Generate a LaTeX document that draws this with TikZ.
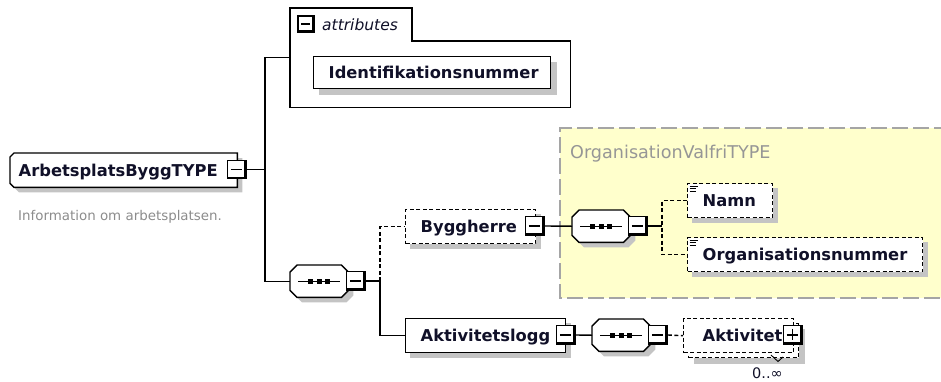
\documentclass[tikz,border=0pt]{standalone}
\usepackage{fontspec}
\setmainfont{DejaVu Sans}
\usetikzlibrary{calc}
\pgfdeclarelayer{back}
\pgfdeclarelayer{shade}
\pgfdeclarelayer{mid}
\pgfsetlayers{back,shade,mid,main}
\definecolor{shd}{RGB}{196,196,196}
\definecolor{yel}{RGB}{255,255,204}
\definecolor{ybord}{RGB}{165,165,165}
\definecolor{desc}{RGB}{140,140,140}
\definecolor{typec}{RGB}{150,150,150}
\definecolor{txt}{RGB}{16,16,40}

\newcommand\boxshadow[2]{\begin{pgfonlayer}{shade}\fill[shd] ($(#1.north west)+(#2,#2)$) rectangle ($(#1.south east)+(#2,#2)$);\end{pgfonlayer}}
\newcommand\octo[4]{\path[#4] ($(#1.north west)+(7+#2,#3)$) -- ($(#1.north east)+(-7+#2,#3)$) -- ($(#1.north east)+(#2,7+#3)$) -- ($(#1.south east)+(#2,-7+#3)$) -- ($(#1.south east)+(-7+#2,#3)$) -- ($(#1.south west)+(7+#2,#3)$) -- ($(#1.south west)+(#2,-7+#3)$) -- ($(#1.north west)+(#2,7+#3)$) -- cycle;}
\newcommand\seqdraw[1]{%
 \begin{pgfonlayer}{shade}\octo{#1}{5}{5}{fill=shd}\end{pgfonlayer}
 \begin{pgfonlayer}{mid}\octo{#1}{0}{0}{draw,fill=white,line width=1.4pt}\end{pgfonlayer}
 \draw[line width=1.4pt] ($(#1.west)+(8,0)$) -- ($(#1.east)+(-8,0)$);
 \foreach \d in {-8.5,0,8.5}{\fill ($(#1.center)+(\d-2.5,-2.3)$) rectangle ($(#1.center)+(\d+2.5,2.3)$);}
}
\newcommand\simpleicon[1]{%
 \draw[line width=0.9pt] ($(#1.north west)+(2.5,3)$) -- +(8,0);
 \draw[line width=0.9pt] ($(#1.north west)+(2.5,5.5)$) -- +(6,0);
 \draw[line width=0.9pt] ($(#1.north west)+(2.5,8)$) -- +(6,0);
}

\tikzset{
 lw/.style={line width=1.4pt},
 opt/.style={dash pattern=on 4pt off 2.5pt},
 elem/.style={draw, lw, fill=white, anchor=north west, minimum height=34pt, inner ysep=0pt, align=left,
   font=\bfseries\fontsize{16.3}{19}\selectfont, text=txt, text height=11.7pt, text depth=0pt},
 ctl/.style={draw, lw, fill=white, minimum size=18.5pt, inner sep=0pt,
   path picture={\draw[line width=3.6pt] (path picture bounding box.south west) -- (path picture bounding box.south east) -- (path picture bounding box.north east);
     \draw[line width=1.4pt] ($(path picture bounding box.west)+(3,0)$) -- ($(path picture bounding box.east)+(-4.5,0)$);}},
 plusctl/.style={draw, lw, fill=white, minimum size=18.5pt, inner sep=0pt,
   path picture={\draw[line width=3.6pt] (path picture bounding box.south west) -- (path picture bounding box.south east) -- (path picture bounding box.north east);
     \draw[line width=1.4pt] ($(path picture bounding box.west)+(3,0)$) -- ($(path picture bounding box.east)+(-4.5,0)$);
     \draw[line width=1.4pt] ($(path picture bounding box.north)+(-0.8,3)$) -- ($(path picture bounding box.south)+(-0.8,-4.5)$);}},
 seqn/.style={anchor=north west, minimum width=58pt, minimum height=32pt, inner sep=0pt},
}

\begin{document}
\begin{tikzpicture}[x=1pt,y=-1pt]
\useasboundingbox (0,0) rectangle (941,381);

% yellow type container
\begin{pgfonlayer}{back}
\fill[yel] (560,128) rectangle (950,298);
\draw[ybord, line width=1.8pt, dash pattern=on 16pt off 5pt] (950,128) -- (560,128) -- (560,298) -- (950,298);
\end{pgfonlayer}
\node[anchor=base west, text=typec, font=\fontsize{17.6}{20}\selectfont, inner sep=0pt] (typename) at (570,158) {OrganisationValfriTYPE};

% root complex type
\node[elem, draw=none, fill=none, minimum width=226pt, minimum height=33pt, inner xsep=8pt, text width=210pt] (tb) at (10,153) {ArbetsplatsByggTYPE};
\begin{pgfonlayer}{shade}
\fill[shd] ($(tb.north west)+(9,5)$) -- ($(tb.north east)+(5,5)$) -- ($(tb.south east)+(5,5)$) -- ($(tb.south west)+(9,5)$) -- ($(tb.south west)+(5,1)$) -- ($(tb.north west)+(5,9)$) -- cycle;
\end{pgfonlayer}
\begin{pgfonlayer}{mid}
\draw[lw, fill=white] ($(tb.north west)+(4,0)$) -- (tb.north east) -- (tb.south east) -- ($(tb.south west)+(4,0)$) -- ($(tb.south west)+(0,-4)$) -- ($(tb.north west)+(0,4)$) -- cycle;
\end{pgfonlayer}
\node[ctl] (tbm) at (237,169.5) {};
\node[anchor=base west, text=desc, font=\fontsize{13.4}{15}\selectfont, inner sep=0pt] (descr) at (18,220) {Information om arbetsplatsen.};

% attributes group
\node[anchor=north west, minimum width=280pt, minimum height=99pt, inner sep=0pt] (attr) at (290,8) {};
\draw[lw] (attr.south west) -- (attr.north west) -- ($(attr.north west)+(122,0)$) -- ($(attr.north west)+(122,33)$) -- ($(attr.north east)+(0,33)$) -- (attr.south east) -- cycle;
\node[ctl, minimum size=16pt] (attrm) at (306,24) {};
\node[anchor=base west, inner sep=0pt, text=txt, font=\itshape\fontsize{15.5}{18}\selectfont] (attrlabel) at (322,30) {attributes};
\node[elem, minimum width=237pt, minimum height=32pt, inner xsep=15pt, text width=207pt] (idn) at (313,56) {Identifikationsnummer};
\boxshadow{idn}{6}

% sequence 1
\node[seqn] (seq1) at (290,265) {};
\seqdraw{seq1}
\node[ctl] (s1m) at (356,281) {};

% Byggherre
\node[elem, opt, minimum width=130pt, inner xsep=15pt, text width=100pt] (byg) at (405,209) {Byggherre};
\boxshadow{byg}{5}
\node[ctl] (bygm) at (535,226) {};

% Aktivitetslogg
\node[elem, minimum width=160pt, inner xsep=15pt, text width=130pt] (akl) at (405,318) {Aktivitetslogg};
\boxshadow{akl}{5}
\node[ctl] (aklm) at (566,335) {};

% sequence 2
\node[seqn] (seq2) at (572,210) {};
\seqdraw{seq2}
\node[ctl] (s2m) at (638,226) {};

% Namn, Organisationsnummer
\node[elem, opt, minimum width=85pt, inner xsep=15pt, text width=55pt] (namn) at (687,183) {Namn};
\boxshadow{namn}{5}
\simpleicon{namn}
\node[elem, opt, minimum width=235pt, inner xsep=15pt, text width=205pt] (org) at (687,237) {Organisationsnummer};
\boxshadow{org}{5}
\simpleicon{org}

% sequence 3
\node[seqn] (seq3) at (592,319) {};
\seqdraw{seq3}
\node[ctl] (s3m) at (658,335) {};

% Aktivitet (0..inf)
\node[elem, opt, minimum width=110pt] (aktb) at (688,323) {};
\boxshadow{aktb}{6}
\node[elem, opt, minimum width=110pt, inner xsep=19pt, text width=72pt] (akt) at (683,318) {Aktivitet};
\node[plusctl] (aktp) at (793,335) {};
\node[anchor=base west, inner sep=0pt, text=txt, font=\fontsize{14.5}{17}\selectfont] (occ) at (752,378) {0..∞};
\coordinate (v1) at (771,355);
\coordinate (v2) at (778,361.5);
\coordinate (v3) at (783,357);
\draw[line width=0.9pt] (v1) -- (v2) -- (v3);

% connectors
\coordinate (jx1) at (265,0);
\coordinate (jx2) at (380,0);
\coordinate (jx3) at (662,0);
\draw[lw] (tbm.east) -- (tbm.east -| jx1);
\draw[lw] (attr.west) -- (attr.west -| jx1) -- (seq1.west -| jx1) -- (seq1.west);
\draw[lw] (s1m.east) -- (s1m.east -| jx2);
\draw[lw, opt] (s1m.east -| jx2) -- (byg.west -| jx2) -- (byg.west);
\draw[lw] (s1m.east -| jx2) -- (akl.west -| jx2) -- (akl.west);
\draw[lw] (bygm.east) -- (seq2.west);
\draw[lw] (s2m.east) -- (s2m.east -| jx3);
\draw[lw, opt] (namn.west) -- (namn.west -| jx3) -- (org.west -| jx3) -- (org.west);
\draw[lw] (aklm.east) -- (seq3.west);
\draw[lw, opt] (s3m.east) -- (akt.west);
\end{tikzpicture}
\end{document}
